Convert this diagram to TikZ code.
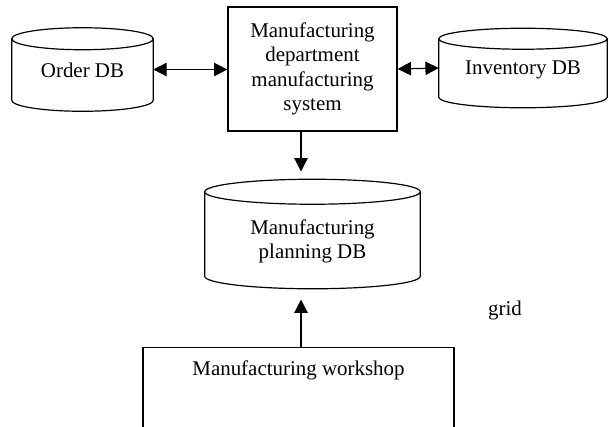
\documentclass[tikz,border=0pt]{standalone}
\usepackage{fontspec}
\setmainfont{Liberation Serif}
\usetikzlibrary{arrows.meta,calc}

\tikzset{
  x=0.75pt, y=-0.75pt,
  outline/.style={draw=black, line width=0.9pt},
  box/.style={outline, rectangle, inner sep=0pt, align=center},
  dbframe/.style={rectangle, inner sep=0pt, draw=none},
  label/.style={inner sep=0pt, align=center, font=\fontsize{15.7}{18.2}\selectfont},
  link/.style={line width=0.9pt, -{Triangle[length=10pt,width=10pt]}},
  biglink/.style={line width=0.9pt, {Triangle[length=10pt,width=10pt]}-{Triangle[length=10pt,width=10pt]}},
}

% cylinder drawn round a named frame node: #1 name, #2 ellipse y radius (px)
\newcommand\dbcylinder[2]{%
  \path let \p1=($(#1.east)-(#1.west)$) in
    [outline] (#1.north west) -- (#1.south west)
      arc[start angle=180, end angle=360, x radius=0.5*\x1, y radius=#2*0.75pt]
      -- (#1.north east)
    (#1.north) ellipse[x radius=0.5*\x1, y radius=#2*0.75pt];
}

\begin{document}
\begin{tikzpicture}
\useasboundingbox (0,0) rectangle (609,426);
\clip (0,0) rectangle (609,426);

% database cylinders
\node[dbframe, minimum width=105.75pt, minimum height=45.75pt] (order) at (82.5,69.5) {};
\dbcylinder{order}{11}
\node[label] (orderText) at (82.5,70) {Order DB};

\node[dbframe, minimum width=126pt, minimum height=43.5pt] (inventory) at (523,68) {};
\dbcylinder{inventory}{10.5}
\node[label] (inventoryText) at (523,70) {Inventory DB};

\node[dbframe, minimum width=161.25pt, minimum height=63pt] (planning) at (312.5,234) {};
\dbcylinder{planning}{12.5}
\node[label] (planningText) at (312.5,241.5) {Manufacturing\\planning DB};

% central system box
\node[box, minimum width=126.75pt, minimum height=93pt, font=\fontsize{15.7}{18.2}\selectfont] (mfg) at (312.5,69)
  {Manufacturing\\department\\manufacturing\\system};

% workshop box (runs past the lower edge)
\node[box, minimum width=233.25pt, minimum height=90pt, anchor=north] (shop) at (298.5,347) {};
\node[label] (shopText) at (298.5,370) {Manufacturing workshop};

\node[label] (gridText) at (505,310) {grid};

% connector end points
\coordinate (mfgOut) at (301,131);
\coordinate (planIn) at (301,171.5);
\coordinate (shopOut) at (301,347);
\coordinate (planOut) at (301,299.5);

% connectors
\draw[biglink] (order.east) -- (order.east -| mfg.west);
\draw[biglink] (mfg.east) -- (inventory.west);
\draw[link] (mfgOut) -- (planIn);
\draw[link] (shopOut) -- (planOut);
\end{tikzpicture}
\end{document}
